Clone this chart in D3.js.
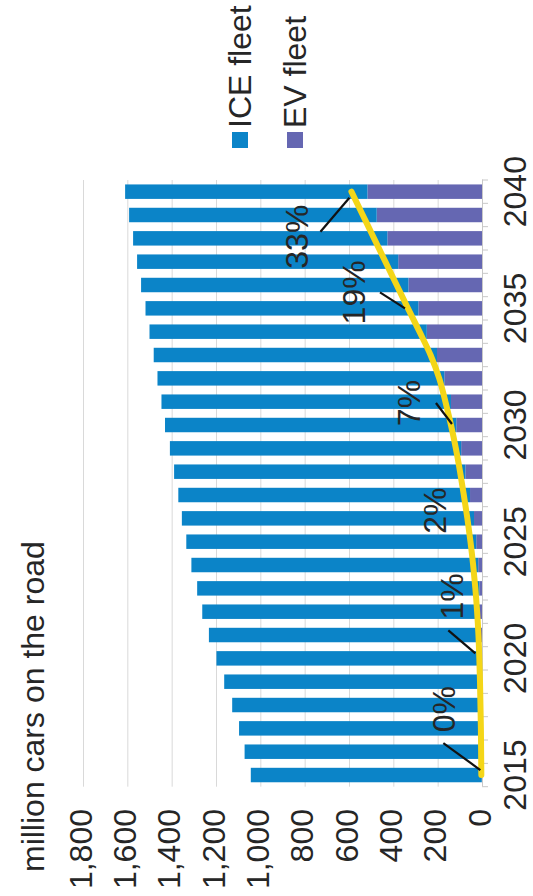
<!DOCTYPE html>
<html><head><meta charset="utf-8">
<script src="https://cdn.jsdelivr.net/npm/d3@7"></script>
<style>html,body{margin:0;padding:0;background:#fff;}svg{display:block;}</style>
</head><body>
<svg id="c" width="533" height="896"></svg>
<script>
// ---- data ----
const years = [2015,2016,2017,2018,2019,2020,2021,2022,2023,2024,2025,2026,2027,2028,2029,2030,2031,2032,2033,2034,2035,2036,2037,2038,2039,2040];
const iceFleet = [1042,1070,1094,1124,1159,1193,1225,1253,1273,1294,1308,1318,1316,1314,1314,1314,1306,1294,1278,1251,1231,1206,1178,1147,1117,1093];
const evFleet  = [1,1,2,3,4,5,7,9,12,17,26,36,54,75,94,116,140,170,203,249,287,332,378,427,475,517];
const evTrend  = [3,4,5,7,9,12,16,22,30,40,52,66,82,99,118,140,165,193,232,282,334,385,436,487,538,589];
const valueTicks = [0,200,400,600,800,1000,1200,1400,1600,1800];
const yearLabels = [2015,2020,2025,2030,2035,2040];
const pctYears  = [2015,2020,2025,2030,2035,2040];
const pctLabels = ["0%","1%","2%","7%","19%","33%"];
const seriesNames = ["ICE fleet","EV fleet"];
const titleText = "million cars on the road";

// ---- layout (unrotated frame: 896 wide x 533 tall, then rotated -90deg) ----
const FONT = "'Liberation Sans', Arial, sans-serif";
const TXT = "#262626";
const C_ICE = "#0b84c8", C_EV = "#6567b2", C_LINE = "#f4d618";
const u0 = 109.3, u1 = 716;

const svg = d3.select("#c");
const g = svg.append("g").attr("transform","translate(0,896) rotate(-90)")
  .style("font-family", FONT);

const x = d3.scaleBand().domain(years).range([u0,u1]).paddingInner(0.38).paddingOuter(0.19);
const y = d3.scaleLinear().domain([0,1800]).range([482,83]);
const bw = x.bandwidth();

// gridlines
const grid = g.append("g").attr("transform",`translate(${u0},0)`)
  .call(d3.axisLeft(y).tickValues(valueTicks.filter(v=>v>0)).tickSize(-(u1-u0)).tickFormat(""));
grid.select(".domain").remove();
grid.selectAll("line").attr("stroke","#d9d9d9").attr("stroke-width",1);

// value labels
const yl = g.append("g").attr("transform","translate(87,0)")
  .call(d3.axisLeft(y).tickValues(valueTicks).tickSize(0).tickPadding(0).tickFormat(d3.format(",")));
yl.select(".domain").remove();
yl.selectAll("text").attr("dy","0.25em").attr("font-size",32).attr("fill",TXT).style("font-family",FONT);

// stacked bars
const rows = years.map((yr,i)=>({year:yr, ev:evFleet[i], ice:iceFleet[i]}));
const stack = d3.stack().keys(["ev","ice"])(rows);
const colors = {ev:C_EV, ice:C_ICE};
g.append("g").selectAll("g").data(stack).join("g")
  .attr("fill", s=>colors[s.key])
  .selectAll("rect").data(s=>s).join("rect")
  .attr("x", d=>x(d.data.year)).attr("width", bw)
  .attr("y", d=>y(d[1])).attr("height", d=>y(d[0])-y(d[1]));

// category axis
const xa = g.append("g").attr("transform",`translate(0,${y(0)})`)
  .call(d3.axisBottom(x).tickValues(yearLabels).tickSize(0).tickSizeOuter(0).tickPadding(0));
xa.select(".domain").attr("stroke","#c8c8c8");
xa.selectAll("text").attr("y",44).attr("dy","0").attr("font-size",32).attr("fill",TXT).style("font-family",FONT);
const bounds = years.map(d=>x(d) - x.step()*x.paddingInner()/2).concat([x(years[years.length-1]) + bw + x.step()*x.paddingInner()/2]);
xa.selectAll(".bt").data(bounds).join("line").attr("class","bt")
  .attr("x1",d=>d).attr("x2",d=>d).attr("y1",0).attr("y2",6).attr("stroke","#c8c8c8");

// yellow trend line
const pts = years.map((yr,i)=>({year:yr, v:evTrend[i]}));
const line = d3.line().x(d=>x(d.year)+bw/2).y(d=>y(d.v)).curve(d3.curveMonotoneX);
g.append("path").datum(pts).attr("d",line).attr("fill","none")
  .attr("stroke",C_LINE).attr("stroke-width",6).attr("stroke-linecap","round");

// percentage annotations (offsets relative to the trend point of that year)
const annLayout = [
  {lab:[66,-26], l:[[32,-38],[5,-1]]},
  {lab:[62,-16], l:[[28,-31],[5,-4]]},
  {lab:[31,-24], l:null},
  {lab:[22,-31], l:[[22,-15],[1,1]]},
  {lab:[16,-43], l:[[16,-28],[0,-3]]},
  {lab:[-45,-43], l:[[-40,-31],[-6,-2]]}
];
pctYears.forEach((yr,i)=>{
  const k = years.indexOf(yr);
  const px = x(yr)+bw/2, py = y(evTrend[k]);
  const a = annLayout[i];
  if (a.l) {
    g.append("line").attr("x1",px+a.l[0][0]).attr("y1",py+a.l[0][1])
      .attr("x2",px+a.l[1][0]).attr("y2",py+a.l[1][1])
      .attr("stroke","#111").attr("stroke-width",2.2);
  }
  g.append("text").attr("x",px+a.lab[0]).attr("y",py+a.lab[1])
    .attr("text-anchor","middle").attr("font-size",32).attr("fill",TXT)
    .text(pctLabels[i]);
});

// title
g.append("text").attr("x",24).attr("y",44).attr("font-size",32).attr("fill",TXT).text(titleText);

// legend
const legColors = [C_ICE, C_EV];
const leg = g.append("g").selectAll("g").data(seriesNames).join("g")
  .attr("transform",(d,i)=>`translate(748,${[240,295][i]})`);
leg.append("rect").attr("x",0).attr("y",-8).attr("width",16).attr("height",16).attr("fill",(d,i)=>legColors[i]);
leg.append("text").attr("x",20).attr("y",11).attr("font-size",32).attr("fill",TXT).text(d=>d);
</script>
</body></html>
